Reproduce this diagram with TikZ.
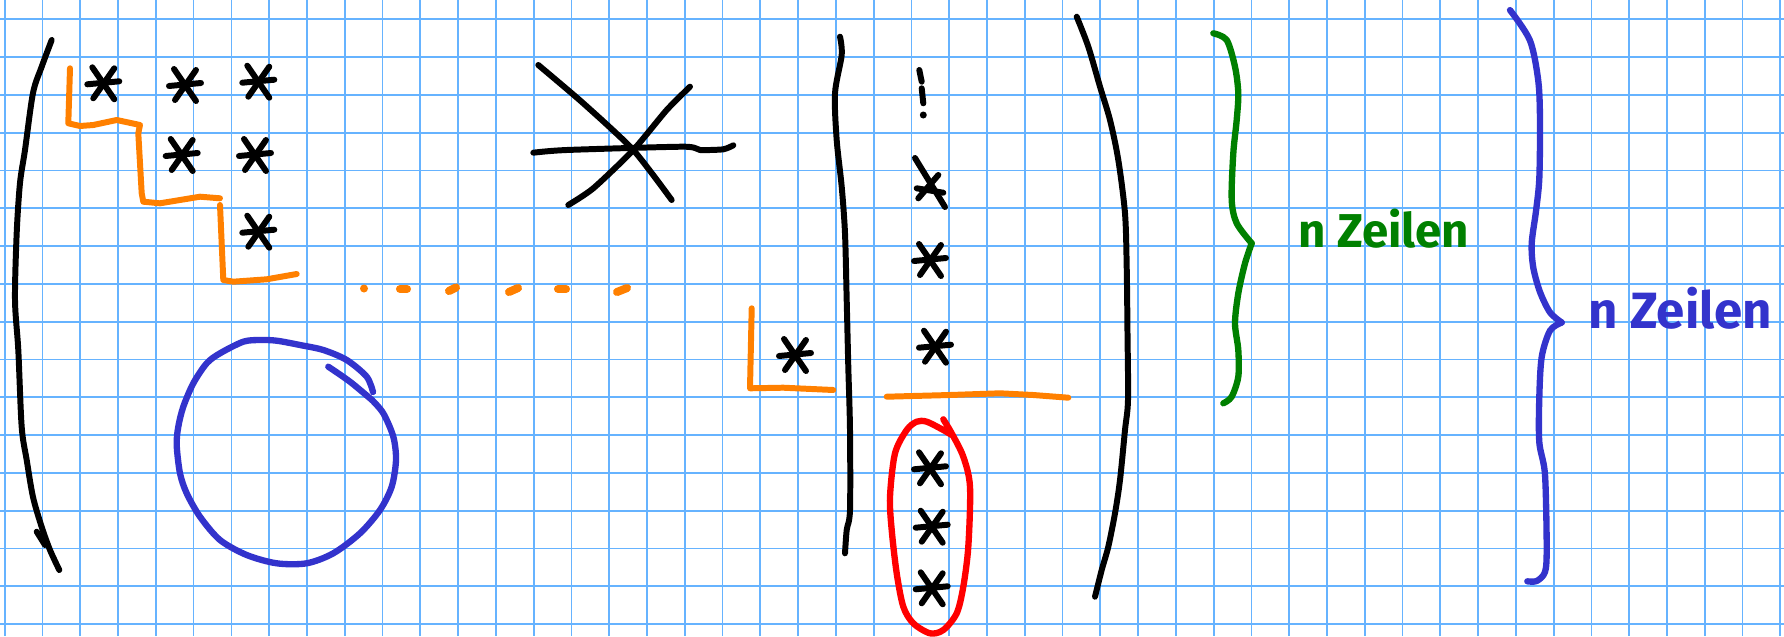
\documentclass[tikz,border=0pt]{standalone}
\usepackage{fontspec}
\setmainfont{Fira Sans}
\definecolor{GridBlue}{HTML}{66B3FF}
\definecolor{PenOrange}{HTML}{FF8000}
\definecolor{PenBlue}{HTML}{3333CC}
\definecolor{PenGreen}{HTML}{008000}
\definecolor{PenRed}{HTML}{FF0000}
\usepackage{tikz}
\usetikzlibrary{positioning}

\begin{document}
\begin{tikzpicture}[
  x=0.01cm, y=-0.01cm,
  gridline/.style={draw=GridBlue, line width=0.5pt},
  pen/.style={line width=1.7pt, line cap=round, line join=round},
  orangepen/.style={pen, draw=PenOrange},
  bluepen/.style={pen, draw=PenBlue, line width=1.8pt},
  greenpen/.style={pen, draw=PenGreen, line width=1.8pt},
  redpen/.style={pen, draw=PenRed, line width=1.8pt},
  lbl/.style={inner sep=0pt, anchor=base west},
  astmark/.pic={
    \draw[pen] (-16,1) -- (16,-2);
    \draw[pen] (-11,-16) -- (11,16);
    \draw[pen] (11,-15) -- (-10,15);
  }
]
  % Paper with grid
  \fill[white] (0,0) rectangle (1784,636);
  \useasboundingbox (0,0) rectangle (1784,636);
  \foreach \i in {0,...,47}
    \draw[gridline] ({4.7+37.78*\i},0) -- ++(0,636);
  \foreach \j in {0,...,16}
    \draw[gridline] (0,{19.3+37.8*\j}) -- ++(1784,0);

  % Left matrix: bracket, stars, staircase
  \draw[pen] plot[smooth, tension=0.5] coordinates {(51.7,40) (41.7,66.7) (33,93) (25,150) (20,183)
    (16.7,233) (15,300) (18.3,350) (21.7,427) (26.7,460) (33,497) (41.7,527) (50,550) (59.3,570)};
  \draw[pen] (36.7,531.7) -- (45,545);
  \foreach \p in {(103.3,83.3), (185,85), (258.3,81.7), (181.7,155), (255,155), (258.3,231.7)}
    \pic at \p {astmark};
  \draw[orangepen] (70,68.3) -- (68.3,123.3) -- (80,126) -- (93.3,125) -- (116.7,120) -- (140,125)
    -- (138.3,133.3) -- (141.7,193.3) -- (143.3,201.7) -- (160,203.3) -- (200,196.7) -- (220,198.3);
  \draw[orangepen] (220,205) -- (223.3,280) -- (233.3,281.7) -- (266.7,279.3) -- (296.7,274);

  % Dotted continuation
  \fill[PenOrange] (364,288.5) circle (4);
  \foreach \a/\b in {{(400,289)}/{(407,289)}, {(449,291)}/{(456,287.5)}, {(509,292)}/{(518,288)},
                     {(558,289)}/{(566,289)}, {(617,292)}/{(627,288)}}
    \draw[orangepen, line width=2.3pt] \a -- \b;

  % Blue circle
  \draw[bluepen] plot[smooth, tension=0.5] coordinates {(373,392) (366.7,376.7) (346.7,360) (323.3,350)
    (300,345) (276.7,340.7) (260,340) (243.3,341.7) (220,353.3) (206.7,363.3) (193.3,383.3) (183.3,406.7)
    (178.3,426.7) (176.7,445) (180,473.3) (186.7,493.3) (200,516.7) (220,540) (246.7,555) (276.7,563.3)
    (306.7,563.3) (333.3,553.3) (360,533.3) (380,510) (391.7,486.7) (396,460) (393.3,436.7) (383.3,413.3)
    (372,400)};
  \draw[bluepen] plot[smooth, tension=0.5] coordinates {(328.3,366.7) (350,381.7) (372,400)};

  % Big star
  \draw[pen] plot[smooth, tension=0.4] coordinates {(538.3,65) (583.3,103.3) (633.3,150) (671.7,200)};
  \draw[pen] plot[smooth, tension=0.4] coordinates {(568.3,205) (593.3,188.3) (633.3,150) (666.7,110) (690,86.7)};
  \draw[pen] plot[smooth, tension=0.4] coordinates {(533.3,152.7) (566.7,150) (683.3,146.7) (700,150)
    (723.3,149.3) (733.3,145.3)};

  % Middle matrix: bar, column, bracket
  \draw[orangepen] (751.7,308.3) -- (750,388.3) -- (783.3,387.7) -- (833.3,390);
  \pic at (795,355) {astmark};
  \draw[pen] plot[smooth, tension=0.5] coordinates {(840,36.7) (841.7,55) (835,93.3) (836.7,140)
    (841.7,186.7) (845,233.3) (846.7,300) (848.3,366.7) (850,430) (850,510) (846.7,530) (845,553.3)};
  \draw[pen] (919.3,70) -- (921.7,81.7);
  \draw[pen] (921.7,88.3) -- (923.3,103.3);
  \fill (923.3,115) circle (3.5);
  \draw[pen] (915,158) -- (945,207);
  \draw[pen] (918.3,198.3) -- (938.3,175);
  \draw[pen] (916.7,188.3) -- (943.3,192.7);
  \foreach \p in {(930,260), (935,346.7), (930,468.3), (931.7,526.7), (931.7,588.3)}
    \pic at \p {astmark};
  \draw[orangepen] (886.7,396.7) -- (950,395) -- (1000,393.3) -- (1033.3,395) -- (1068.3,397.7);
  \draw[redpen] plot[smooth, tension=0.5] coordinates {(943.3,419.3) (951.7,433.3) (963.3,456.7) (970,486.7)
    (968.3,546.7) (963.3,586.7) (956.7,613.3) (943.3,630) (930,633.3) (913.3,623.3) (903.3,606.7)
    (896.7,573.3) (891.7,530) (890,496.7) (895,453.3) (906.7,430) (916.7,421.7) (926.7,421.7)
    (943.3,430) (951.7,435)};
  \draw[pen] plot[smooth, tension=0.5] coordinates {(1076.7,16.7) (1088.3,46.7) (1100,86.7) (1110,120)
    (1118.3,160) (1125,213.3) (1126.7,266.7) (1127.5,333.3) (1128,400) (1125,430) (1120,480)
    (1115,513.3) (1108.3,546.7) (1101.7,570) (1095,596.7)};

  % Braces with labels
  \coordinate (gtip) at (1251.7,243.3);
  \draw[greenpen] plot[smooth, tension=0.5] coordinates {(1213.3,33.3) (1226.7,40) (1235,66.7) (1238.3,93.3)
    (1236.7,120) (1233.3,153.3) (1231.7,200) (1236.7,223.3) (gtip)};
  \draw[greenpen] plot[smooth, tension=0.5] coordinates {(gtip) (1245,263.3) (1238.3,293.3) (1235,323.3)
    (1238.3,350) (1238.3,376.7) (1231.7,396.7) (1223.3,403.3)};
  \node[lbl, text=PenGreen, font=\fontsize{13.5}{16}\selectfont\bfseries] (greenlbl) at (1298,247) {n Zeilen};

  \coordinate (btip) at (1561.7,322.5);
  \draw[bluepen] plot[smooth, tension=0.5] coordinates {(1510,10.1) (1530,40.6) (1538.3,81.1) (1540,121.7)
    (1539.3,178.5) (1536,211) (1531.7,243.4) (1533.3,267.7) (1540,292) (1550,312.4) (btip)};
  \draw[bluepen] plot[smooth, tension=0.5] coordinates {(btip) (1550,330.6) (1541.7,357) (1539.3,397.6)
    (1539.3,442.2) (1545,474.6) (1546.7,547.7) (1545,572) (1536.7,581) (1527.3,581.3)};
  \node[lbl, text=PenBlue, font=\fontsize{14.5}{17}\selectfont\bfseries] (bluelbl) at (1588,328) {n Zeilen};
\end{tikzpicture}
\end{document}
